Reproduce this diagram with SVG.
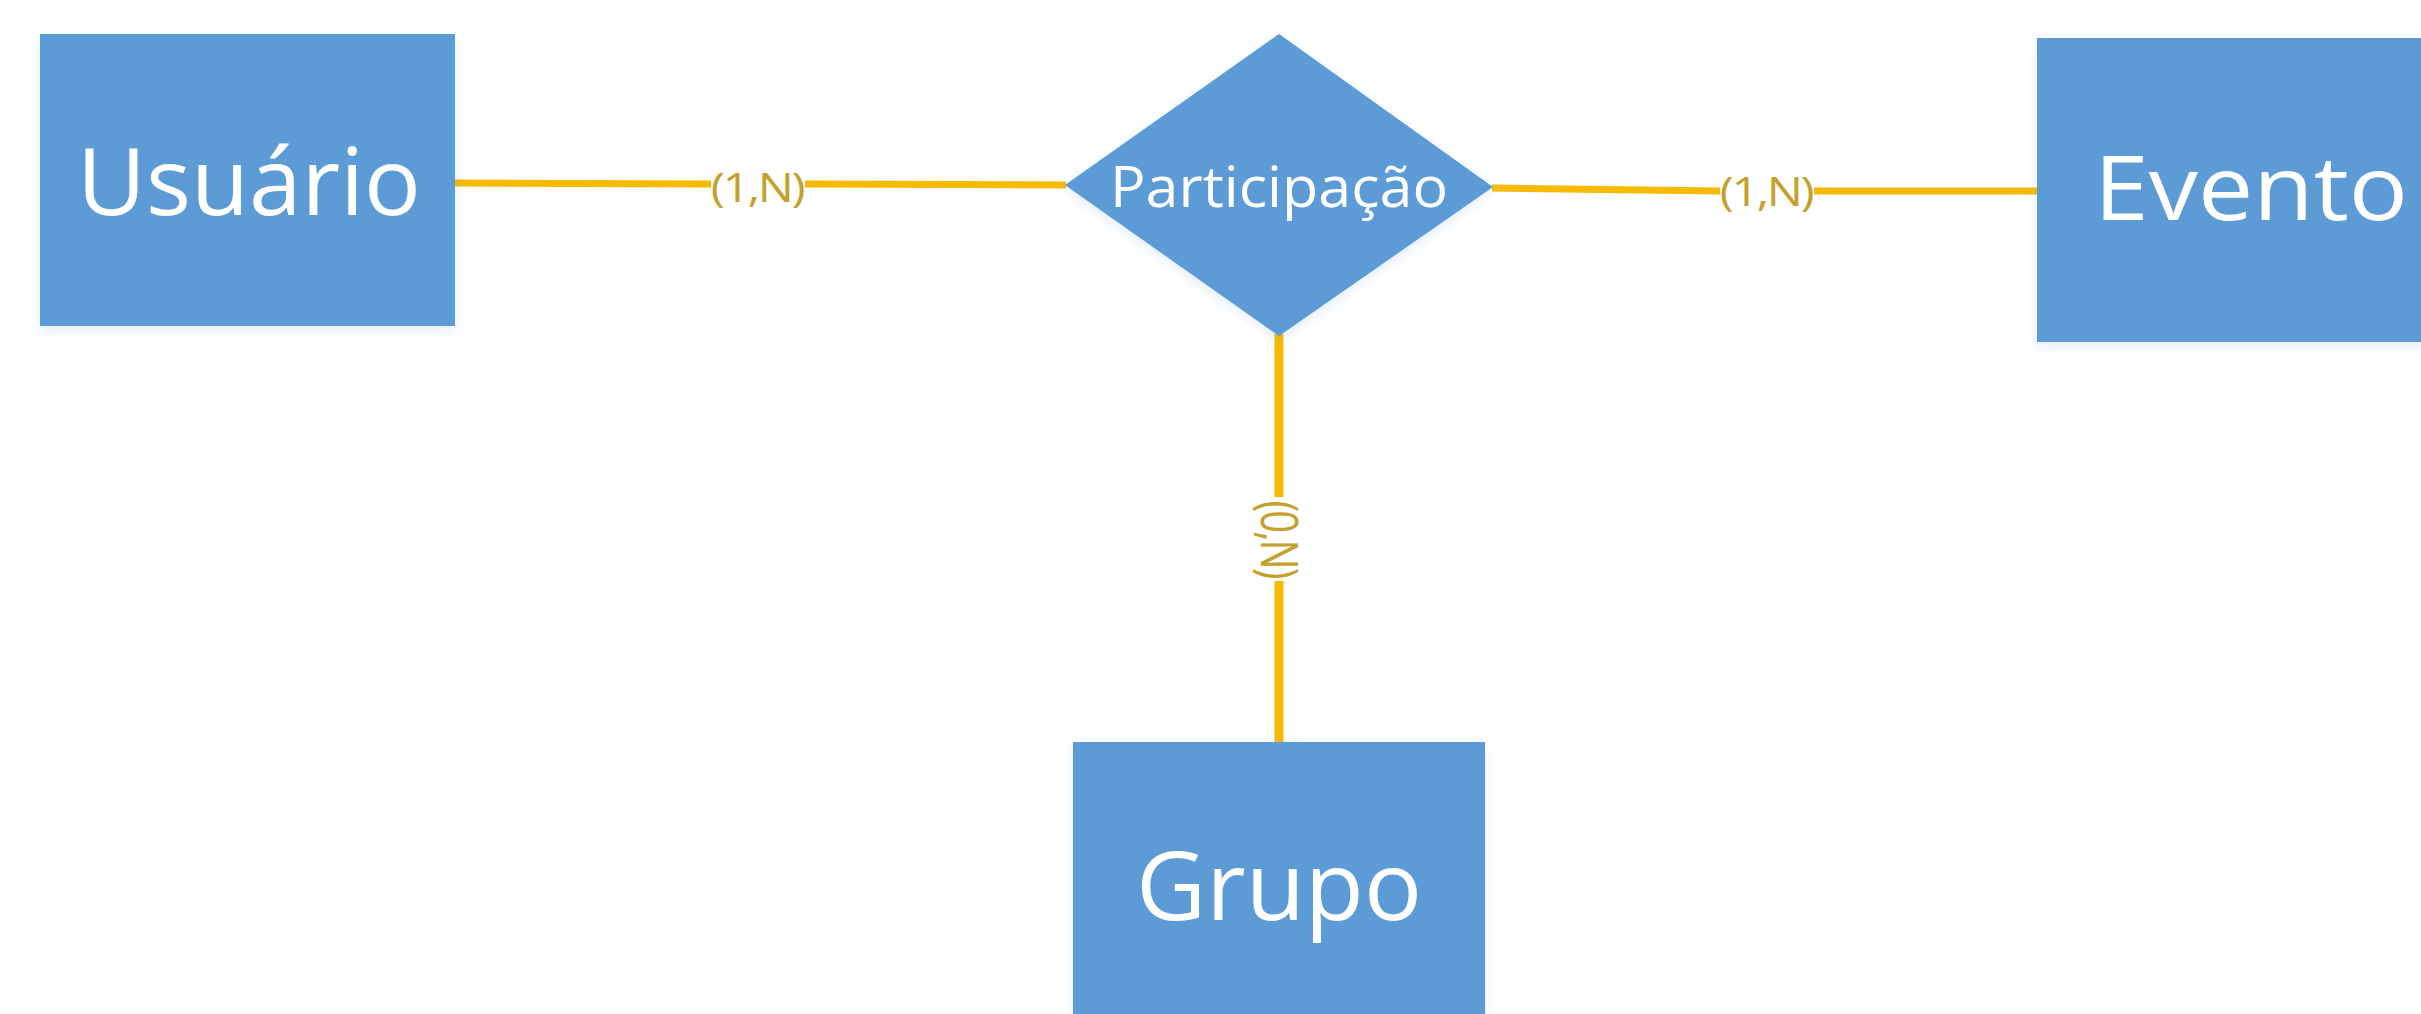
<svg xmlns="http://www.w3.org/2000/svg" width="2421" height="1014" viewBox="0 0 2421 1014">
  <defs>
    <filter id="soft" x="-10%" y="-10%" width="120%" height="120%">
      <feDropShadow dx="0" dy="4" stdDeviation="6" flood-color="#5B9BD5" flood-opacity="0.18"/>
    </filter>
  </defs>
  <style>
    .entity { fill: #5B9BD5; filter: url(#soft); }
    .rel { fill: #5B9BD5; filter: url(#soft); }
    .title { font-family: "Open Sans", "Noto Sans", sans-serif; fill: #FFFFFF; }
    .conn { stroke: #F6BA00; stroke-width: 7; fill: none; stroke-linecap: butt; }
    .connv { stroke: #F6BA00; stroke-width: 9; fill: none; }
    .card { font-family: "Open Sans", "Noto Sans", sans-serif; fill: #C4A02C; font-size: 40px; letter-spacing: -2px; }
  </style>
  <rect width="2421" height="1014" fill="#FFFFFF"/>

  <g id="connectors">
    <line class="conn" x1="455" y1="183" x2="711" y2="184"/>
    <line class="conn" x1="805" y1="184" x2="1066" y2="185"/>
    <line class="conn" x1="1492" y1="188" x2="1720" y2="191"/>
    <line class="conn" x1="1814" y1="191" x2="2038" y2="191"/>
    <line class="connv" x1="1279" y1="334" x2="1279" y2="497"/>
    <line class="connv" x1="1279" y1="581" x2="1279" y2="743"/>
    <text class="card" transform="translate(757,202) scale(1.2,1)" text-anchor="middle">(1,N)</text>
    <text class="card" transform="translate(1766,206) scale(1.2,1)" text-anchor="middle">(1,N)</text>
    <text class="card" transform="translate(1277,539) scale(1.3,1) rotate(90)" x="0" y="12" text-anchor="middle">(0,N)</text>
  </g>

  <g id="usuario">
    <rect class="entity" x="40" y="34" width="415" height="292"/>
    <text class="title" x="249" y="215" font-size="93" text-anchor="middle" textLength="344" lengthAdjust="spacingAndGlyphs">Usuário</text>
  </g>

  <g id="participacao">
    <polygon class="rel" points="1279,34 1493,187 1279,336 1065,185"/>
    <text class="title" x="1279" y="207" font-size="56" text-anchor="middle" textLength="338" lengthAdjust="spacingAndGlyphs">Participação</text>
  </g>

  <g id="evento">
    <rect class="entity" x="2037" y="38" width="420" height="304"/>
    <text class="title" x="2094" y="220" font-size="89" textLength="314" lengthAdjust="spacingAndGlyphs">Evento</text>
  </g>

  <g id="grupo">
    <rect class="entity" x="1073" y="742" width="412" height="290"/>
    <text class="title" x="1279" y="920" font-size="95" text-anchor="middle" textLength="286" lengthAdjust="spacingAndGlyphs">Grupo</text>
  </g>
</svg>
